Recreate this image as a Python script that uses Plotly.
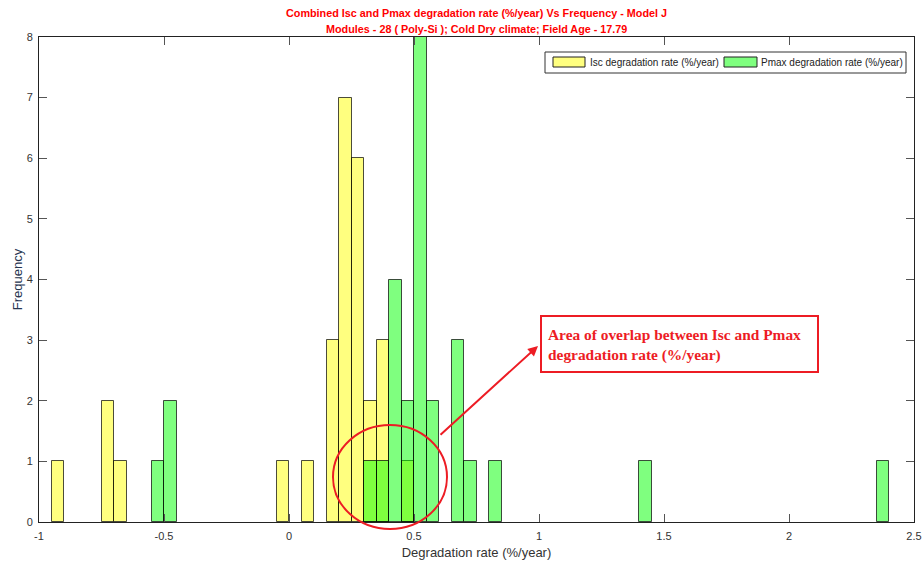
import plotly.graph_objects as go

# Histogram counts per 0.05-wide bin (bin left edges, %/year)
bin_width = 0.05
isc_bin_left = [-0.95, -0.75, -0.70, -0.05, 0.05, 0.15, 0.20, 0.25, 0.30, 0.35, 0.45]
isc_counts = [1, 2, 1, 1, 1, 3, 7, 6, 2, 3, 1]
pmax_bin_left = [-0.55, -0.50, 0.30, 0.35, 0.40, 0.45, 0.50, 0.55, 0.65, 0.70, 0.80, 1.40, 2.35]
pmax_counts = [1, 2, 1, 1, 4, 2, 8, 2, 3, 1, 1, 1, 1]

x_tickvals = [-1, -0.5, 0, 0.5, 1, 1.5, 2, 2.5]
x_ticktext = ["-1", "-0.5", "0", "0.5", "1", "1.5", "2", "2.5"]
y_tickvals = [0, 1, 2, 3, 4, 5, 6, 7, 8]

isc_name = "Isc degradation rate (%/year)"
pmax_name = "Pmax degradation rate (%/year)"
title_lines = ["Combined Isc and Pmax degradation rate (%/year) Vs Frequency - Model J",
               "Modules - 28 ( Poly-Si ); Cold Dry climate; Field Age - 17.79"]
note_lines = ["Area of overlap between Isc and Pmax", "degradation rate (%/year)"]

W, H = 922, 565
L, R, T, B = 39, 8, 37, 43
PW, PH = W - L - R, H - T - B

YELLOW = "rgba(255,255,0,0.5)"
GREEN = "rgba(0,255,0,0.5)"
EDGE = "rgba(0,0,0,0.7)"
RED = "#ED1C24"
SANS = "Liberation Sans, Arial"


def px(xp):
    return (xp - L) / PW


def py(yp):
    return 1 - (yp - T) / PH


def centers(lefts):
    return [v + bin_width / 2 for v in lefts]


fig = go.Figure()
fig.add_trace(go.Bar(x=centers(isc_bin_left), y=isc_counts, width=bin_width,
                     marker=dict(color=YELLOW, line=dict(color=EDGE, width=1)),
                     name=isc_name, showlegend=False))
fig.add_trace(go.Bar(x=centers(pmax_bin_left), y=pmax_counts, width=bin_width,
                     marker=dict(color=GREEN, line=dict(color=EDGE, width=1)),
                     name=pmax_name, showlegend=False))

axis_common = dict(showline=True, linecolor="#222", linewidth=1, mirror="ticks",
                   ticks="inside", ticklen=8, tickcolor="#555", tickwidth=1,
                   showgrid=False, zeroline=False, automargin=False,
                   tickfont=dict(family=SANS, size=11, color="#333"))

fig.update_layout(
    width=W, height=H,
    margin=dict(l=L, r=R, t=T, b=B, autoexpand=False),
    plot_bgcolor="white", paper_bgcolor="white",
    barmode="overlay", bargap=0,
    xaxis=dict(range=[-1, 2.5], tickvals=x_tickvals, ticktext=x_ticktext,
               ticklabelstandoff=4,
               title=dict(text="Degradation rate (%/year)", standoff=6,
                          font=dict(family=SANS, size=13, color="#333")),
               **axis_common),
    yaxis=dict(range=[0, 8], tickvals=y_tickvals, ticklabelstandoff=3,
               title=dict(text="Frequency", standoff=1,
                          font=dict(family=SANS, size=13, color="#26344f")),
               **axis_common),
)

shapes = []
annotations = []

# Two-line red title
for line, yc in zip(title_lines, [13, 29]):
    annotations.append(dict(text="<b>" + line + "</b>", xref="paper", yref="paper",
                            x=0.5, y=py(yc), xanchor="center", yanchor="middle",
                            showarrow=False,
                            font=dict(family=SANS, size=10.8, color="#FF0000")))

# Legend box with wide swatches
shapes.append(dict(type="rect", xref="paper", yref="paper",
                   x0=px(545), x1=px(906), y0=py(73), y1=py(52),
                   line=dict(color="#333", width=1), fillcolor="white"))
for sx0, sx1, col, tx, label in [(553, 585, YELLOW, 588, isc_name),
                                 (724, 757, GREEN, 759, pmax_name)]:
    shapes.append(dict(type="rect", xref="paper", yref="paper",
                       x0=px(sx0), x1=px(sx1), y0=py(67), y1=py(57),
                       line=dict(color="#222", width=1), fillcolor=col))
    annotations.append(dict(text=label, xref="paper", yref="paper",
                            x=px(tx), y=py(62), xanchor="left", yanchor="middle",
                            showarrow=False,
                            font=dict(family=SANS, size=10, color="#222")))

# Ellipse around the overlap region
shapes.append(dict(type="circle", xref="paper", yref="paper",
                   x0=px(333), x1=px(447), y0=py(529), y1=py(425),
                   line=dict(color=RED, width=2)))

# Note box (frame and text drawn separately)
shapes.append(dict(type="rect", xref="paper", yref="paper",
                   x0=px(541), x1=px(818), y0=py(372), y1=py(316),
                   line=dict(color=RED, width=2), fillcolor="white"))
annotations.append(dict(text="<b>" + note_lines[0] + "<br>" + note_lines[1] + "</b>",
                        xref="paper", yref="paper",
                        x=px(546), y=py(345), xanchor="left", yanchor="middle",
                        align="left", showarrow=False,
                        font=dict(family="Liberation Serif, Times New Roman", size=15.4, color=RED)))

# Arrow from the ellipse to the note
annotations.append(dict(text="", xref="paper", yref="paper",
                        x=px(538), y=py(346), ax=439 - 538, ay=436 - 346,
                        showarrow=True, arrowhead=2, arrowsize=1, arrowwidth=2,
                        arrowcolor=RED))

fig.update_layout(shapes=shapes, annotations=annotations)
fig.write_html("out.html")
